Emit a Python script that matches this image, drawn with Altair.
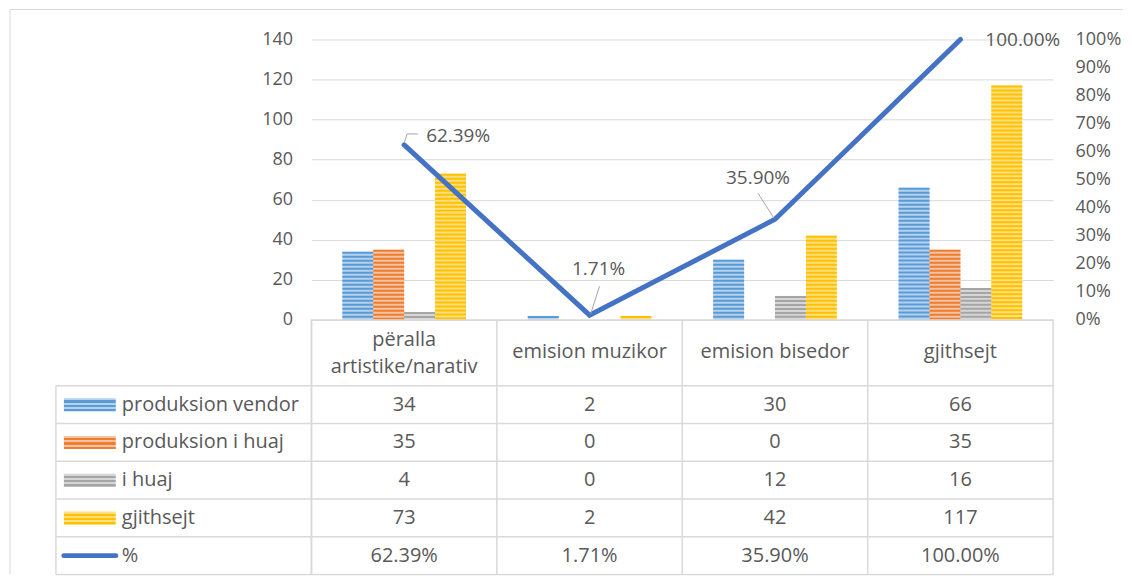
import altair as alt
import pandas as pd

# ---------------- data ----------------
categories = ["përalla artistike/narativ", "emision muzikor", "emision bisedor", "gjithsejt"]
header_labels = ["përalla\nartistike/narativ", "emision muzikor", "emision bisedor", "gjithsejt"]
series = ["produksion vendor", "produksion i huaj", "i huaj", "gjithsejt"]
produksion_vendor = [34, 2, 30, 66]
produksion_i_huaj = [35, 0, 0, 35]
i_huaj = [4, 0, 12, 16]
gjithsejt = [73, 2, 42, 117]
pct_values = [0.6239, 0.0171, 0.3590, 1.0]
pct_labels = ["62.39%", "1.71%", "35.90%", "100.00%"]
pct_row = "%"
left_ticks = [0, 20, 40, 60, 80, 100, 120, 140]
right_ticks = [0.0, 0.1, 0.2, 0.3, 0.4, 0.5, 0.6, 0.7, 0.8, 0.9, 1.0]

# ---------------- style ----------------
DARK = ["#5B9BD5", "#ED7D31", "#A5A5A5", "#FFC000"]
LIGHT = ["#B4D2EE", "#F7C3A0", "#D6D6D6", "#FFE080"]
LINE = "#4472C4"
GRID = "#D9D9D9"
TXT = "#595959"
FONT = "Open Sans"
W, H, TH = 743, 281, 255
HEADER_H = 66

series_values = [produksion_vendor, produksion_i_huaj, i_huaj, gjithsejt]
bars_df = pd.DataFrame(
    [{"cat": c, "series": s, "value": vals[i]}
     for s, vals in zip(series, series_values) for i, c in enumerate(categories)]
)
line_df = pd.DataFrame({"cat": categories, "pct": pct_values, "label": pct_labels})
one = pd.DataFrame({"a": [0]})

x_scale = alt.Scale(domain=categories, paddingInner=0, paddingOuter=0)
X = alt.X("cat:N", scale=x_scale, axis=None, sort=categories)
XOFF = alt.XOffset("series:N", scale=alt.Scale(domain=series, paddingInner=0, paddingOuter=1),
                   sort=series)

left_axis = alt.Axis(values=left_ticks, grid=True, gridColor=GRID, domain=False, ticks=False,
                     labelPadding=19, labelFontSize=18, labelColor=TXT, title=None)
right_axis = alt.Axis(orient="right", values=right_ticks, format=".0%", grid=False, domain=False,
                      ticks=False, labelPadding=22, labelFontSize=18, labelColor=TXT, title=None)


def yv(axis=None):
    return alt.Y("value:Q", scale=alt.Scale(domain=[0, 140]), axis=axis)


def yp(axis=None):
    return alt.Y("pct:Q", scale=alt.Scale(domain=[0, 1]), axis=axis)


bars_light = alt.Chart(bars_df).mark_bar(opacity=1).encode(
    x=X, xOffset=XOFF, y=yv(left_axis),
    color=alt.Color("series:N", scale=alt.Scale(domain=series, range=LIGHT), legend=None),
)
bars_stripes = alt.Chart(bars_df).mark_rule(strokeWidth=31, strokeDash=[2, 2]).encode(
    x=X, xOffset=XOFF, y=yv(), y2=alt.datum(0),
    color=alt.Color("series:N", scale=alt.Scale(domain=series, range=DARK), legend=None),
)

line = alt.Chart(line_df).mark_line(color=LINE, strokeWidth=5, strokeCap="round").encode(
    x=X, y=yp(right_axis)
)

label_specs = [  # dx, dy, align
    (22, -9, "left"),
    (9, -46, "center"),
    (-17, -41, "center"),
    (25, 1, "left"),
]
labels = []
for i, (dx, dy, al) in enumerate(label_specs):
    labels.append(
        alt.Chart(line_df.iloc[[i]]).mark_text(
            dx=dx, dy=dy, align=al, baseline="middle", fontSize=19, color=TXT, font=FONT
        ).encode(x=X, y=yp(), text="label:N")
    )

leader_specs = [  # (index, x0, y0, x1, y1) offsets from the data point
    (0, 0, -2, 3, -11),
    (0, 3, -11, 14, -11),
    (1, 10, -29, 1, -1),
    (2, -17, -26, -1, -1),
]
leaders = []
for i, x0, y0, x1, y1 in leader_specs:
    leaders.append(
        alt.Chart(line_df.iloc[[i]]).mark_rule(
            color="#A6A6A6", strokeWidth=1, xOffset=x0, yOffset=y0, x2Offset=x1, y2Offset=y1
        ).encode(x=X, x2=alt.X2("cat:N"), y=yp(), y2=alt.Y2("pct:Q"))
    )

border_top = alt.Chart(one).mark_rule(color=GRID, strokeWidth=1).encode(
    x=alt.value(-302), x2=alt.value(813), y=alt.value(-30)
)
border_left_top = alt.Chart(one).mark_rule(color=GRID, strokeWidth=1).encode(
    x=alt.value(-302), y=alt.value(-30), y2=alt.value(H)
)

top = alt.layer(
    bars_light, bars_stripes, line, *leaders, *labels, border_top, border_left_top
).resolve_scale(y="independent", color="independent").properties(
    width=W, height=H, view=alt.ViewBackground(stroke="transparent")
)

# ---------------- data table ----------------
rows = series + [pct_row]
table_rows = []
for s, vals in zip(series, series_values):
    for i, c in enumerate(categories):
        table_rows.append({"row": s, "cat": c, "txt": str(vals[i])})
for i, c in enumerate(categories):
    table_rows.append({"row": pct_row, "cat": c, "txt": pct_labels[i]})
table_df = pd.DataFrame(table_rows)
rows_df = pd.DataFrame({"row": rows})
header_df = pd.DataFrame({"cat": categories, "header": header_labels})
header_df["lines"] = header_df["header"].str.count("\n") + 1

y_scale = alt.Scale(domain=rows, range=[HEADER_H, TH], paddingInner=0, paddingOuter=0)
Yr = alt.Y("row:N", scale=y_scale, axis=None, sort=rows)

cells = alt.Chart(table_df).mark_text(fontSize=20, color=TXT, font=FONT, baseline="middle").encode(
    x=X, y=Yr, text="txt:N"
)
headers_1 = alt.Chart(header_df[header_df["lines"] == 1]).mark_text(
    fontSize=20, color=TXT, font=FONT, baseline="middle", dy=-1
).encode(x=X, y=alt.value(HEADER_H / 2), text="header:N")
headers_2 = alt.Chart(header_df[header_df["lines"] == 2]).mark_text(
    fontSize=20, color=TXT, font=FONT, baseline="middle", lineBreak="\n", lineHeight=27, dy=-13
).encode(x=X, y=alt.value(HEADER_H / 2), text="header:N")
row_labels = alt.Chart(rows_df).mark_text(
    fontSize=20, color=TXT, font=FONT, align="left", baseline="middle"
).encode(x=alt.value(-190), y=Yr, text="row:N")


def stripe_gradient(dark, light, n=6):
    stops = []
    for k in range(n):
        c = light if k % 2 == 0 else dark
        stops.append({"offset": k / n, "color": c})
        stops.append({"offset": (k + 1) / n, "color": c})
    return {"gradient": "linear", "x1": 0, "y1": 0, "x2": 0, "y2": 1, "stops": stops}


keys = []
for s, d, l in zip(series, DARK, LIGHT):
    keys.append(
        alt.Chart(rows_df[rows_df["row"] == s]).mark_point(
            shape="M-2,-0.5L2,-0.5L2,0.5L-2,0.5Z", size=676, filled=True,
            fill=stripe_gradient(d, l), opacity=1, strokeWidth=0
        ).encode(x=alt.value(-222), y=Yr)
    )
line_key = alt.Chart(rows_df[rows_df["row"] == pct_row]).mark_rule(
    strokeWidth=5, strokeCap="round", color=LINE
).encode(x=alt.value(-248), x2=alt.value(-196), y=Yr)

hlines = alt.Chart(rows_df).mark_rule(color=GRID, strokeWidth=1.5).encode(
    y=alt.Y("row:N", scale=y_scale, axis=None, sort=rows, bandPosition=0),
    x=alt.value(-256), x2=alt.value(W),
)
bottom_left = alt.Chart(one).mark_rule(color=GRID, strokeWidth=1.5).encode(
    y=alt.value(TH), x=alt.value(-256), x2=alt.value(0)
)
vlines = alt.Chart(header_df).mark_rule(color=GRID, strokeWidth=1.5).encode(
    x=alt.X("cat:N", scale=x_scale, axis=None, sort=categories, bandPosition=0),
    y=alt.value(0), y2=alt.value(TH),
)
left_col = alt.Chart(one).mark_rule(color=GRID, strokeWidth=1.5).encode(
    x=alt.value(-256), y=alt.value(HEADER_H), y2=alt.value(TH)
)
border_left_bottom = alt.Chart(one).mark_rule(color=GRID).encode(
    x=alt.value(-302), y=alt.value(0), y2=alt.value(TH)
)

table = alt.layer(
    hlines, bottom_left, vlines, left_col, border_left_bottom,
    cells, headers_1, headers_2, row_labels, *keys, line_key
).properties(width=W, height=TH, view=alt.ViewBackground(stroke=GRID, strokeWidth=1.5))

chart = alt.vconcat(top, table, spacing=0, bounds="flush").properties(
    padding=0
).configure(font=FONT).configure_axis(labelFont=FONT)

chart.save("out.html", embed_options={"renderer": "svg", "actions": False})
